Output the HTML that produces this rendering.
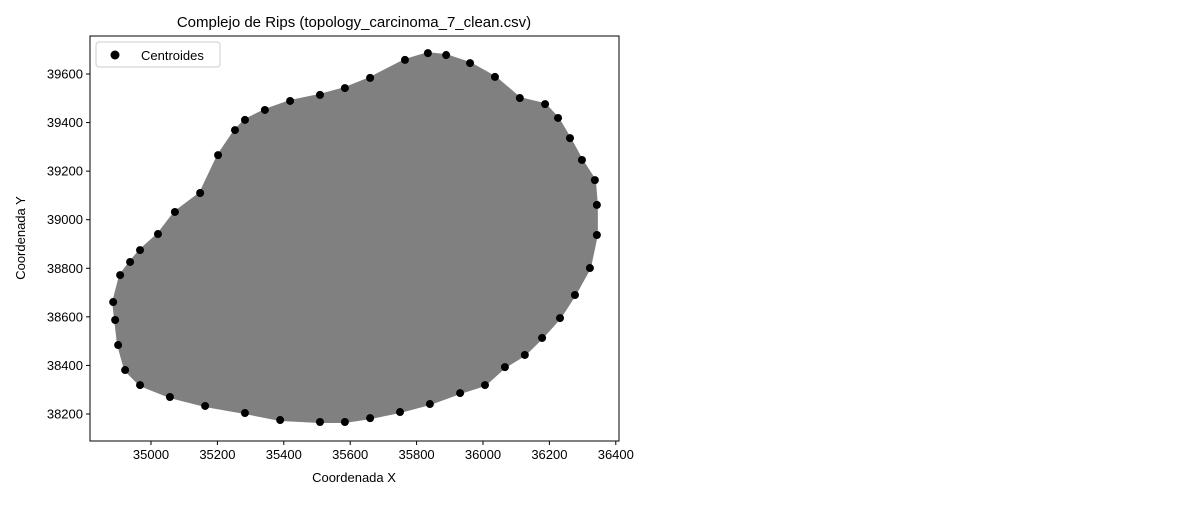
<!DOCTYPE html>
<html><head><meta charset="utf-8"><style>
body{margin:0;background:#fff;}
svg text{font-family:"Liberation Sans","DejaVu Sans",sans-serif;fill:#000;}
</style></head><body>
<svg width="1200" height="500">
<rect width="1200" height="500" fill="#fff"/>
<g id="plot"></g>
<script>
const xs=[34886,34907,34937,34967,35021,35072,35148,35202,35253,35283,35343,35419,35509,35584,35660,35765,35834,35889,35961,36036,36111,36187,36226,36262,36298,36337,36343,36343,36322,36277,36232,36178,36126,36066,36006,35931,35840,35750,35660,35584,35509,35389,35283,35163,35057,34967,34922,34901,34892];
const ys=[38661,38772,38826,38875,38941,39032,39110,39266,39369,39411,39452,39489,39514,39542,39584,39658,39686,39678,39645,39588,39501,39476,39419,39336,39246,39163,39061,38937,38801,38690,38595,38513,38443,38393,38319,38286,38241,38208,38183,38167,38167,38175,38204,38233,38270,38319,38381,38484,38587];
const xTicks=[35000,35200,35400,35600,35800,36000,36200,36400];
const yTicks=[38200,38400,38600,38800,39000,39200,39400,39600];
const L=90,R=619,T=36,B=441;
const sx=v=>151+(v-35000)*66.4/200;
const sy=v=>74+(39600-v)*48.57/200;
const NS="http://www.w3.org/2000/svg";
const g=document.getElementById('plot');
function el(t,a,p){const e=document.createElementNS(NS,t);for(const k in a)e.setAttribute(k,a[k]);(p||g).appendChild(e);return e;}
const pts=xs.map((x,i)=>sx(x)+','+sy(ys[i])).join(' ');
const poly=el('polygon',{points:pts,fill:'#808080',stroke:'#808080','stroke-width':2});


xs.forEach((x,i)=>{const c=el('circle',{cx:sx(x),cy:sy(ys[i]),r:4,fill:'#000'});

});
const fr=el('rect',{x:L,y:T,width:R-L,height:B-T,fill:'none',stroke:'#000','stroke-width':1});


xTicks.forEach(v=>{const x=sx(v);el('line',{x1:x,x2:x,y1:B,y2:B+4,stroke:'#000'});
const t=el('text',{x:x,y:B+18,'font-size':13,'text-anchor':'middle'});t.textContent=v;

});
yTicks.forEach(v=>{const y=sy(v);el('line',{x1:L-4,x2:L,y1:y,y2:y,stroke:'#000'});
const t=el('text',{x:L-7,y:y+4.5,'font-size':13,'text-anchor':'end'});t.textContent=v;

});
</script>
<text x="354" y="27" font-size="15" text-anchor="middle">Complejo de Rips (topology_carcinoma_7_clean.csv)</text>
<text x="354" y="482" font-size="13" text-anchor="middle">Coordenada X</text>
<text x="25" y="238" font-size="13" text-anchor="middle" transform="rotate(-90 25 238)">Coordenada Y</text>
<g>
<rect x="96" y="42" width="124" height="25" rx="3" fill="#fff" stroke="#ccc"/>
<circle cx="115" cy="55" r="4.5" fill="#000"/>
<text x="141" y="60" font-size="13">Centroides</text>
</g>
</svg>
</body></html>
